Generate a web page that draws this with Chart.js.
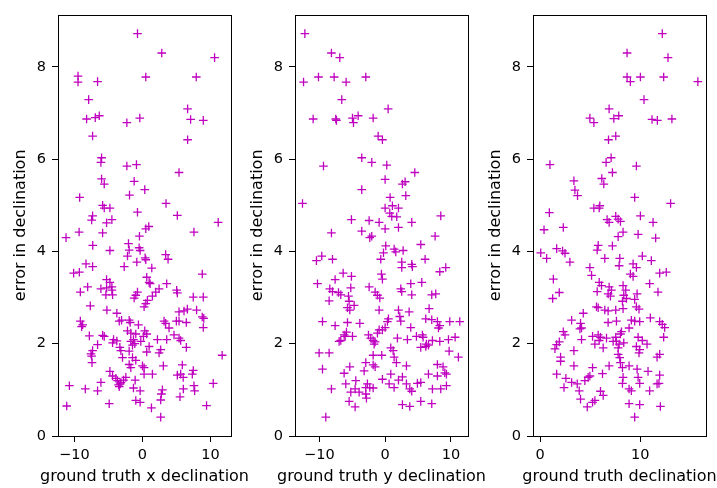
<!DOCTYPE html>
<html>
<head>
<meta charset="utf-8">
<script src="https://cdn.jsdelivr.net/npm/chart.js@4/dist/chart.umd.min.js"></script>
<style>
  html, body { margin: 0; padding: 0; background: #fff; }
  #wrap { position: relative; width: 717px; height: 488px; overflow: hidden; }
  canvas { position: absolute; top: 0; }
</style>
</head>
<body>
<div id="wrap">
  <canvas id="xChart"></canvas>
  <canvas id="yChart"></canvas>
  <canvas id="totChart"></canvas>
</div>
<script>
// error in declination vs. ground truth x declination
const xDeclPoints = [
  [-0.73, 8.72], [2.83, 8.30], [10.59, 8.20], [-9.46, 7.80], [-9.46, 7.67], [-6.59, 7.68],
  [0.49, 7.78], [7.90, 7.78], [-7.90, 7.29], [6.63, 7.09], [-8.20, 6.87], [-6.93, 6.90],
  [-6.34, 6.94], [-2.29, 6.79], [-0.39, 6.89], [7.07, 6.86], [8.93, 6.84], [-7.32, 6.50],
  [6.63, 6.42], [-6.00, 6.03], [-6.10, 5.93], [-2.29, 5.85], [-0.88, 5.88], [5.37, 5.71],
  [-6.00, 5.57], [-5.61, 5.46], [-1.22, 5.52], [0.34, 5.34], [-9.22, 5.17], [-1.90, 5.22],
  [3.46, 5.04], [-5.85, 5.00], [-5.61, 4.94], [-4.78, 4.94], [-7.32, 4.77], [-7.46, 4.68],
  [-0.73, 4.85], [5.12, 4.78], [-5.27, 4.62], [-4.49, 4.69], [11.12, 4.63], [-9.30, 4.42],
  [-5.85, 4.40], [0.49, 4.49], [0.93, 4.54], [7.56, 4.42], [-11.22, 4.30], [-0.44, 4.33],
  [-7.30, 4.13], [-4.78, 4.02], [-2.05, 4.17], [-1.95, 4.03], [-2.20, 3.90], [-2.68, 3.67],
  [-0.49, 4.08], [-0.34, 4.02], [0.39, 3.86], [0.49, 3.82], [-0.83, 3.77], [3.41, 3.93],
  [3.76, 3.83], [-8.29, 3.73], [-7.32, 3.67], [1.37, 3.64], [-10.10, 3.53], [-9.27, 3.55],
  [8.78, 3.51], [0.63, 3.44], [0.98, 3.33], [1.12, 3.30], [-5.27, 3.39], [-4.78, 3.33],
  [-4.49, 3.23], [-5.27, 3.21], [-4.49, 3.16], [-8.05, 3.23], [-6.10, 3.19], [-9.12, 3.12],
  [3.56, 3.30], [2.44, 3.19], [1.95, 3.12], [1.46, 3.03], [5.02, 3.16], [5.12, 3.10],
  [-5.37, 3.06], [-4.39, 3.06], [-0.73, 3.12], [-0.98, 3.05], [-1.22, 2.99], [0.73, 2.94],
  [0.49, 2.87], [7.46, 3.01], [8.93, 3.01], [-7.66, 2.82], [0.24, 2.80], [-5.22, 2.73],
  [5.37, 2.69], [6.10, 2.71], [6.59, 2.75], [7.95, 2.73], [-3.76, 2.66], [-3.41, 2.49],
  [-3.07, 2.51], [-9.12, 2.49], [-8.78, 2.41], [-8.93, 2.37], [-1.95, 2.51], [-1.80, 2.46],
  [3.17, 2.49], [3.41, 2.44], [3.90, 2.34], [4.98, 2.49], [5.37, 2.49], [6.44, 2.46],
  [8.78, 2.58], [9.00, 2.55], [8.93, 2.35], [-0.59, 2.41], [-2.20, 2.28], [-1.71, 2.23],
  [-0.98, 2.21], [0.34, 2.28], [0.63, 2.21], [0.15, 2.16], [-7.80, 2.17], [-5.85, 2.18],
  [-5.61, 2.16], [4.63, 2.19], [5.37, 2.12], [5.61, 2.07], [6.44, 1.92], [2.20, 2.09],
  [3.56, 2.09], [-4.24, 2.09], [-3.76, 2.06], [-4.39, 2.02], [-3.32, 1.92], [-3.17, 1.85],
  [-1.71, 2.05], [-1.32, 2.09], [-1.12, 2.00], [-1.46, 1.97], [-0.24, 2.05], [0.98, 1.94],
  [0.63, 1.82], [-6.59, 1.98], [-7.32, 1.85], [-7.56, 1.78], [-7.46, 1.73], [-7.41, 1.59],
  [-1.95, 1.84], [-1.46, 1.70], [2.68, 1.87], [2.44, 1.80], [11.70, 1.75], [-2.93, 1.70],
  [-0.98, 1.64], [-1.95, 1.55], [-1.71, 1.48], [0.00, 1.52], [0.24, 1.48], [3.07, 1.52],
  [5.85, 1.54], [5.61, 1.34], [7.46, 1.42], [7.32, 1.34], [-4.78, 1.40], [-4.39, 1.30],
  [-3.90, 1.25], [-3.66, 1.20], [-3.27, 1.13], [-3.17, 1.16], [-2.44, 1.27], [-2.78, 1.21],
  [-1.07, 1.21], [-1.32, 1.04], [0.24, 1.34], [1.46, 1.34], [5.12, 1.32], [5.98, 1.27],
  [-3.50, 1.11], [-3.41, 1.07], [-10.73, 1.09], [-6.10, 1.16], [-6.59, 0.98], [-8.39, 1.02],
  [-0.34, 0.98], [2.93, 1.00], [2.78, 0.91], [7.56, 1.09], [7.66, 0.98], [6.00, 1.02],
  [5.51, 0.85], [10.39, 1.14], [-0.98, 0.77], [-0.34, 0.73], [-4.88, 0.70], [1.32, 0.61],
  [2.68, 0.78], [9.41, 0.66], [-11.12, 0.65], [2.68, 0.41]
];

// error in declination vs. ground truth y declination
const yDeclPoints = [
  [-12.20, 8.72], [-8.16, 8.30], [-6.89, 8.20], [-12.40, 7.67], [-10.13, 7.78], [-7.75, 7.78],
  [-5.93, 7.67], [-2.94, 7.78], [-6.59, 7.29], [0.46, 7.09], [-10.94, 6.87], [-7.50, 6.87],
  [-7.40, 6.84], [-4.96, 6.89], [-4.81, 6.79], [-4.10, 6.94], [-1.82, 6.89], [-1.06, 6.50],
  [-0.41, 6.42], [-3.55, 6.03], [-2.03, 5.93], [0.25, 5.87], [-9.37, 5.85], [4.51, 5.71],
  [0.00, 5.56], [2.63, 5.46], [3.04, 5.51], [-3.55, 5.34], [3.14, 5.21], [0.76, 5.17],
  [-12.56, 5.04], [0.00, 4.94], [1.11, 4.99], [2.03, 4.94], [0.71, 4.83], [1.01, 4.76],
  [1.77, 4.75], [8.46, 4.77], [-5.12, 4.69], [-2.43, 4.67], [-0.91, 4.63], [0.00, 4.49],
  [2.03, 4.52], [4.05, 4.63], [-8.16, 4.40], [-3.55, 4.44], [-2.03, 4.33], [-2.33, 4.30],
  [7.60, 4.33], [0.10, 4.12], [-0.25, 3.97], [1.37, 4.05], [1.62, 3.99], [2.74, 4.02],
  [5.42, 4.15], [-10.44, 3.80], [-9.63, 3.90], [-8.00, 3.83], [-0.66, 3.83], [2.53, 3.77],
  [4.05, 3.72], [2.53, 3.65], [4.15, 3.67], [6.08, 3.83], [9.22, 3.65], [8.31, 3.56],
  [-6.38, 3.53], [-5.12, 3.46], [-0.56, 3.51], [-0.41, 3.40], [-7.60, 3.39], [-10.28, 3.30],
  [5.57, 3.33], [3.90, 3.30], [-8.41, 3.19], [-8.00, 3.13], [-8.51, 2.93], [-7.09, 3.11],
  [-6.74, 3.06], [-5.22, 3.21], [-5.57, 3.03], [-5.47, 2.92], [-2.43, 3.23], [-1.52, 3.12],
  [-1.17, 3.05], [-0.81, 2.99], [2.38, 3.19], [2.53, 3.13], [4.05, 3.06], [7.09, 3.06],
  [7.70, 3.08], [-4.71, 2.83], [-5.72, 2.78], [-5.37, 2.73], [-0.91, 2.73], [6.69, 2.76],
  [2.03, 2.73], [2.23, 2.59], [2.38, 2.49], [3.65, 2.69], [0.51, 2.54], [0.35, 2.48],
  [0.00, 2.35], [-9.52, 2.48], [-7.60, 2.39], [-5.72, 2.46], [-3.85, 2.44], [6.18, 2.54],
  [7.09, 2.52], [7.95, 2.48], [8.31, 2.39], [8.11, 2.34], [9.83, 2.48], [11.35, 2.48],
  [3.90, 2.35], [-0.91, 2.30], [-0.41, 2.30], [-1.17, 2.23], [-5.88, 2.25], [-6.23, 2.19],
  [-6.08, 2.16], [-4.96, 2.16], [-6.74, 2.07], [-6.99, 2.05], [-2.53, 2.19], [-2.18, 2.12],
  [-1.82, 2.07], [-1.52, 2.04], [-1.67, 1.99], [1.87, 2.12], [3.39, 2.09], [4.76, 2.16],
  [5.67, 2.19], [5.77, 2.14], [6.28, 1.99], [6.59, 1.97], [7.19, 2.07], [8.31, 2.05],
  [9.63, 2.09], [10.64, 2.14], [5.42, 1.92], [6.18, 1.94], [-10.03, 1.80], [-8.51, 1.80],
  [0.86, 1.91], [1.22, 1.85], [9.73, 1.84], [11.14, 1.71], [-1.82, 1.75], [-0.51, 1.75],
  [-2.94, 1.59], [-1.82, 1.54], [-1.52, 1.50], [1.37, 1.71], [1.72, 1.59], [3.24, 1.52],
  [-9.52, 1.45], [-5.37, 1.50], [-6.23, 1.36], [-3.19, 1.41], [7.95, 1.55], [8.81, 1.50],
  [9.07, 1.37], [9.32, 1.34], [6.59, 1.34], [7.95, 1.30], [-0.41, 1.23], [0.86, 1.34],
  [2.03, 1.21], [2.63, 1.28], [0.61, 1.13], [-5.98, 1.13], [-4.46, 1.20], [-4.56, 1.02],
  [-2.69, 1.13], [-2.94, 1.05], [-2.33, 1.05], [-1.82, 1.04], [3.24, 1.13], [3.75, 1.02],
  [4.91, 1.14], [5.42, 1.16], [7.19, 1.02], [8.46, 1.02], [9.32, 1.09], [-8.16, 1.02],
  [1.37, 1.05], [4.05, 0.97], [-5.22, 0.95], [-3.95, 0.95], [-2.94, 0.91], [-2.84, 0.82],
  [-5.47, 0.75], [-4.56, 0.63], [2.63, 0.68], [3.75, 0.64], [5.42, 0.75], [7.09, 0.70],
  [-9.02, 0.41]
];

// error in declination vs. ground truth (total) declination
const totDeclPoints = [
  [12.19, 8.72], [8.68, 8.30], [12.76, 8.20], [8.68, 7.78], [9.01, 7.68], [10.01, 7.78],
  [12.33, 7.78], [15.74, 7.68], [10.37, 7.29], [6.89, 7.09], [4.97, 6.89], [5.37, 6.79],
  [7.36, 6.88], [7.85, 6.94], [11.17, 6.86], [11.70, 6.84], [13.15, 6.87], [6.83, 6.42],
  [7.55, 6.50], [0.99, 5.88], [6.59, 5.93], [7.09, 6.03], [9.61, 5.85], [3.38, 5.53],
  [3.48, 5.33], [3.74, 5.21], [6.16, 5.58], [6.36, 5.46], [7.22, 5.71], [9.44, 5.17],
  [13.02, 5.04], [0.93, 4.84], [5.37, 4.94], [5.96, 4.99], [5.90, 4.94], [6.69, 4.69],
  [6.89, 4.63], [7.55, 4.76], [7.79, 4.70], [8.02, 4.65], [10.01, 4.77], [11.27, 4.63],
  [0.40, 4.47], [2.32, 4.52], [9.78, 4.37], [8.28, 4.42], [7.79, 4.32], [11.53, 4.29],
  [5.80, 4.13], [5.70, 4.03], [7.22, 4.12], [1.66, 4.06], [2.25, 4.01], [2.49, 3.96],
  [0.07, 3.97], [0.66, 3.85], [2.98, 3.77], [6.46, 3.85], [7.95, 3.85], [7.89, 3.69],
  [10.20, 3.90], [11.10, 3.80], [9.28, 3.73], [9.61, 3.65], [9.01, 3.51], [9.28, 3.46],
  [4.97, 3.65], [5.14, 3.48], [11.93, 3.53], [12.59, 3.55], [1.33, 3.40], [5.90, 3.33],
  [6.13, 3.26], [5.70, 3.13], [6.89, 3.23], [7.12, 3.16], [6.79, 3.08], [7.02, 3.03],
  [8.28, 3.26], [8.55, 3.16], [8.35, 3.05], [8.62, 2.98], [10.93, 3.30], [9.68, 3.08],
  [9.44, 2.96], [11.76, 3.12], [1.92, 3.11], [1.26, 2.98], [8.22, 2.92], [8.28, 2.76],
  [9.61, 2.80], [9.87, 2.75], [5.63, 2.80], [5.80, 2.78], [6.46, 2.73], [6.79, 2.71],
  [7.55, 2.73], [4.31, 2.66], [3.15, 2.51], [4.04, 2.44], [4.14, 2.34], [3.98, 2.32],
  [6.79, 2.46], [7.62, 2.49], [9.11, 2.51], [9.44, 2.49], [9.94, 2.48], [11.00, 2.56],
  [11.93, 2.48], [12.19, 2.42], [12.43, 2.35], [8.88, 2.34], [8.12, 2.26], [8.02, 2.21],
  [2.32, 2.26], [2.49, 2.19], [5.24, 2.16], [5.80, 2.19], [6.03, 2.14], [5.90, 2.07],
  [6.63, 2.12], [7.29, 2.05], [7.55, 2.14], [9.78, 2.14], [10.20, 2.07], [12.33, 2.14],
  [4.14, 2.09], [1.92, 2.04], [1.66, 1.98], [1.49, 1.89], [5.47, 1.99], [6.30, 1.91],
  [7.62, 2.05], [7.89, 1.99], [7.79, 1.91], [8.35, 2.02], [9.61, 1.94], [9.94, 1.87],
  [9.87, 1.80], [10.67, 1.99], [3.38, 1.85], [7.79, 1.77], [7.95, 1.70], [11.93, 1.77],
  [11.67, 1.71], [2.05, 1.71], [2.05, 1.62], [8.02, 1.59], [8.22, 1.48], [8.88, 1.52],
  [3.38, 1.52], [5.24, 1.48], [6.23, 1.35], [6.89, 1.52], [9.68, 1.45], [9.78, 1.27],
  [10.77, 1.40], [11.93, 1.32], [1.66, 1.34], [2.58, 1.25], [3.15, 1.16], [2.39, 1.05],
  [3.71, 1.13], [3.91, 0.98], [4.80, 1.27], [4.47, 1.20], [4.97, 1.30], [8.28, 1.27],
  [8.22, 1.14], [8.88, 1.02], [9.11, 0.98], [9.94, 1.14], [11.67, 1.13], [11.86, 1.14],
  [10.93, 0.98], [6.03, 0.97], [6.30, 0.88], [4.04, 0.80], [5.24, 0.73], [5.47, 0.77],
  [4.71, 0.63], [8.88, 0.70], [9.94, 0.68], [12.00, 0.64], [9.44, 0.41]
];

const errTicks = [0, 2, 4, 6, 8];
const xDeclTicks = [-10, 0, 10];
const yDeclTicks = [-10, 0, 10];
const totDeclTicks = [0, 10];

const xLabels = ['ground truth x declination', 'ground truth y declination', 'ground truth declination'];
const yLabel = 'error in declination';

const MAGENTA = '#bf00bf';
const FONT = 'DejaVu Sans';
const AXIS_W = 57;   // room left of each plot for ticks + y label
const AXIS_H = 52;   // room below each plot
const PAD_TOP = 10;
const PAD_RIGHT = 6;
const H = 488;

// draws all four spines around the plot area
const framePlugin = {
  id: 'frame',
  afterDraw(chart) {
    const { ctx, chartArea: a } = chart;
    ctx.save();
    ctx.strokeStyle = '#000';
    ctx.lineWidth = 1;
    ctx.strokeRect(Math.round(a.left) + 0.5, Math.round(a.top) + 0.5,
      Math.round(a.right - a.left), Math.round(a.bottom - a.top));
    ctx.restore();
  }
};

// x title is wider than the plot, so it is drawn by hand (the scale title would squeeze it)
const xTitlePlugin = {
  id: 'xTitle',
  afterDraw(chart, args, opts) {
    const { ctx, chartArea: a } = chart;
    ctx.save();
    ctx.fillStyle = '#000';
    ctx.font = '16px "' + FONT + '"';
    ctx.textAlign = 'center';
    ctx.textBaseline = 'middle';
    ctx.fillText(opts.text, (a.left + a.right) / 2, 477);
    ctx.restore();
  }
};

function fmt(v) {
  return v < 0 ? '\u2212' + Math.abs(v) : String(v);
}

function makePanel(id, points, xTicks, xMin, xMax, xTitle, spineLeft, plotW) {
  const canvas = document.getElementById(id);
  const extra = 40; // spare width on both sides so the x title fits
  canvas.width = AXIS_W + plotW + PAD_RIGHT + extra;
  canvas.height = H;
  canvas.style.left = (spineLeft - AXIS_W) + 'px';

  return new Chart(canvas, {
    type: 'scatter',
    data: {
      datasets: [{
        data: points.map(p => ({ x: p[0], y: p[1] })),
        pointStyle: 'cross',
        pointRadius: 4.3,
        pointHoverRadius: 4.3,
        borderColor: MAGENTA,
        backgroundColor: MAGENTA,
        pointBorderWidth: 1.3,
        borderWidth: 1.3
      }]
    },
    options: {
      responsive: false,
      animation: false,
      devicePixelRatio: 1,
      layout: { padding: { top: PAD_TOP, right: PAD_RIGHT + extra, left: 0, bottom: 0 } },
      plugins: {
        legend: { display: false },
        tooltip: { enabled: false },
        xTitle: { text: xTitle }
      },
      scales: {
        x: {
          type: 'linear',
          min: xMin,
          max: xMax,
          afterBuildTicks: s => { s.ticks = xTicks.map(v => ({ value: v })); },
          afterFit: s => { s.height = AXIS_H; },
          border: { display: false },
          grid: { drawOnChartArea: false, drawTicks: true, tickLength: 6, tickColor: '#000', tickWidth: 1 },
          ticks: { color: '#000', padding: 5, maxRotation: 0, font: { family: FONT, size: 14.5 }, callback: fmt }
        },
        y: {
          type: 'linear',
          min: 0,
          max: 9.13,
          afterBuildTicks: s => { s.ticks = errTicks.map(v => ({ value: v })); },
          afterFit: s => { s.width = AXIS_W; },
          border: { display: false },
          grid: { drawOnChartArea: false, drawTicks: true, tickLength: 6, tickColor: '#000', tickWidth: 1 },
          ticks: { color: '#000', padding: 6, font: { family: FONT, size: 14.5 }, callback: fmt },
          title: { display: true, text: yLabel, color: '#000', font: { family: FONT, size: 16 }, padding: { top: 10, bottom: 0 } }
        }
      }
    },
    plugins: [framePlugin, xTitlePlugin]
  });
}

makePanel('xChart', xDeclPoints, xDeclTicks, -12.4, 13.0, xLabels[0], 57.5, 173);
makePanel('yChart', yDeclPoints, yDeclTicks, -13.7, 12.6, xLabels[1], 295, 173);
makePanel('totChart', totDeclPoints, totDeclTicks, -0.7, 16.55, xLabels[2], 532.5, 173);
</script>
</body>
</html>
